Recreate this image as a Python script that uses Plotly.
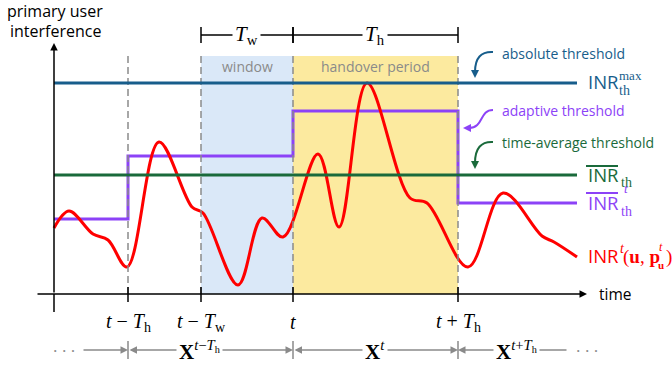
import plotly.graph_objects as go

# time axis: origin at the y axis; level axis: origin at the time axis
tick_times = [74, 147, 239, 404]
tick_labels = ["<i>t</i> − <i>T</i><sub>h</sub>", "<i>t</i> − <i>T</i><sub>w</sub>",
               "<i>t</i>", "<i>t</i> + <i>T</i><sub>h</sub>"]

inr_max = 211          # absolute threshold
inr_avg = 119          # time-average threshold
adaptive_t = [0, 74, 239, 404, 523]
adaptive_level = [75, 138, 183, 91, 91]

inr_t = [0, 15, 39, 54, 73, 105, 138, 149, 184, 208, 229, 264, 285, 313,
         356, 373, 414, 449, 488, 500, 523]
inr_level = [66, 83, 60, 54, 27, 152, 87, 81, 9, 76, 57, 140, 67, 211,
             96, 91, 27, 101, 58, 52, 37]

window = (147, 239)
handover = (239, 404)
end_t = 523

BLUE = "#175d8b"
GREEN = "#1a6a3b"
PURPLE = "#8c42f7"
RED = "#ff0000"
GRAY = "#8a8a8a"
SANS = "Open Sans"
SERIF = "Liberation Serif"

fig = go.Figure()

shapes = []
# shaded periods
shapes.append(dict(type="rect", x0=window[0], x1=window[1], y0=0, y1=238,
                   fillcolor="#dae8f8", line_width=0, layer="below"))
shapes.append(dict(type="rect", x0=handover[0], x1=handover[1], y0=0, y1=238,
                   fillcolor="#fcea9f", line_width=0, layer="below"))
# dashed verticals + ticks
for t in tick_times:
    shapes.append(dict(type="line", x0=t, x1=t, y0=0, y1=238,
                       line=dict(color=GRAY, width=1.5, dash="7px,4px")))
    shapes.append(dict(type="line", x0=t, x1=t, y0=-8, y1=7,
                       line=dict(color="black", width=1.5)))
# y axis below origin
shapes.append(dict(type="line", x0=0, x1=0, y0=-18, y1=0, line=dict(color="black", width=1.5)))

# thresholds
shapes.append(dict(type="line", x0=0, x1=end_t, y0=inr_max, y1=inr_max, line=dict(color=BLUE, width=3)))
shapes.append(dict(type="line", x0=0, x1=end_t, y0=inr_avg, y1=inr_avg, line=dict(color=GREEN, width=3)))

# T brackets
for a, b in [window, handover]:
    shapes.append(dict(type="line", x0=a, x1=b, y0=259, y1=259, line=dict(color="black", width=1.5)))
    for t in (a, b):
        shapes.append(dict(type="line", x0=t, x1=t, y0=251, y1=267, line=dict(color="black", width=1.5)))

# overlines for averaged INR labels
shapes.append(dict(type="line", x0=532, x1=564, y0=128, y1=128, line=dict(color=GREEN, width=2)))
shapes.append(dict(type="line", x0=532, x1=564, y0=101, y1=101, line=dict(color=PURPLE, width=2)))

# curved pointer arrows
shapes.append(dict(type="path", path="M 439,242 Q 421,243 421,222", line=dict(color=BLUE, width=2)))
shapes.append(dict(type="path", path="M 439,184 C 425,184 430,166 415,166", line=dict(color=PURPLE, width=2)))
shapes.append(dict(type="path", path="M 439,152 Q 421,153 421,131", line=dict(color=GREEN, width=2)))

# bottom interval bars
for t in [74, 239, 404]:
    shapes.append(dict(type="line", x0=t, x1=t, y0=-65, y1=-47, line=dict(color=GRAY, width=1.5)))

fig.add_trace(go.Scatter(x=adaptive_t, y=adaptive_level, mode="lines", line_shape="hv",
                         line=dict(color=PURPLE, width=3), hoverinfo="skip"))
fig.add_trace(go.Scatter(x=inr_t, y=inr_level, mode="lines", line_shape="spline",
                         line=dict(color=RED, width=3, smoothing=1), hoverinfo="skip"))

ann = []


def arrow(x, y, ax, ay, color="black", width=1.5, side="end", head=2, size=1):
    ann.append(dict(x=x, y=y, ax=ax, ay=ay, xref="x", yref="y", axref="x", ayref="y",
                    showarrow=True, arrowhead=head, arrowsize=size, arrowwidth=width,
                    arrowcolor=color, arrowside=side, text=""))


def text(x, y, s, size=15, color="black", family=SANS, xa="center", bg=None):
    d = dict(x=x, y=y, xref="x", yref="y", text=s, showarrow=False, xanchor=xa,
             font=dict(size=size, color=color, family=family))
    if bg:
        d.update(bgcolor=bg, borderpad=2)
    ann.append(d)


# axes with arrowheads
arrow(0, 251, 0, 0)
arrow(543 - 10, 0, -18, 0)

# pointer arrowheads
arrow(421, 216, 421, 224, color=BLUE, width=2, size=0.8)
arrow(409, 166, 416, 166, color=PURPLE, width=2, size=0.8)
arrow(421, 125, 421, 133, color=GREEN, width=2, size=0.8)

# bottom arrows
arrow(74, -56, 28, -56, color=GRAY)
arrow(239, -56, 74, -56, color=GRAY, side="end+start")
arrow(404, -56, 239, -56, color=GRAY, side="end+start")
arrow(404, -56, 514, -56, color=GRAY)

text(1, 283, "primary user", size=16)
text(1, 263, "interference", size=16)
text(193, 228, "window", size=14, color=GRAY)
text(321, 228, "handover period", size=14, color=GRAY)
text(192, 259, "<i>T</i><sub>w</sub>", size=21, family=SERIF, bg="white")
text(321, 259, "<i>T</i><sub>h</sub>", size=21, family=SERIF, bg="white")

text(446, 241, "absolute threshold", size=14, color=BLUE, xa="left")
text(446, 184, "adaptive threshold", size=14, color=PURPLE, xa="left")
text(446, 152, "time-average threshold", size=14, color=GREEN, xa="left")

# right-hand labels: sans INR with serif sub/superscripts
text(532, 213, "INR", size=18.5, color=BLUE, xa="left")
text(563, 204, "th", size=14, color=BLUE, family=SERIF, xa="left")
text(563, 219, "max", size=13, color=BLUE, family=SERIF, xa="left")

text(532, 120, "INR", size=18.5, color=GREEN, xa="left")
text(565, 112, "th", size=14, color=GREEN, family=SERIF, xa="left")

text(532, 92, "INR", size=18.5, color=PURPLE, xa="left")
text(565, 83, "th", size=14, color=PURPLE, family=SERIF, xa="left")
text(568, 106, "<i>t</i>", size=13, color=PURPLE, family=SERIF, xa="left")

text(532, 39, "INR", size=18.5, color=RED, xa="left")
text(564, 46, "<i>t</i>", size=14, color=RED, family=SERIF, xa="left")
text(567, 37, "(<b>u</b>, <b>p</b>", size=19, color=RED, family=SERIF, xa="left")
text(602, 29, "<b>u</b>", size=11, color=RED, family=SERIF, xa="left")
text(603, 47, "<i>t</i>", size=12, color=RED, family=SERIF, xa="left")
text(610, 37, ")", size=19, color=RED, family=SERIF, xa="left")

text(543, 0, "time", size=15.5, xa="left")

for t, lab in zip(tick_times, tick_labels):
    text(t, -28, lab, size=20, family=SERIF)

text(10, -56, "· · ·", size=17, color=GRAY, bg="white")
text(145, -56, "<b>X</b><sup><i>t</i>−<i>T</i><sub>h</sub></sup>", size=21, family=SERIF, bg="white")
text(321, -56, "<b>X</b><sup><i>t</i></sup>", size=21, family=SERIF, bg="white")
text(462, -56, "<b>X</b><sup><i>t</i>+<i>T</i><sub>h</sub></sup>", size=21, family=SERIF, bg="white")
text(533, -56, "· · ·", size=17, color=GRAY, bg="white")

fig.update_layout(
    width=672, height=365,
    margin=dict(l=0, r=0, t=0, b=0),
    plot_bgcolor="white", paper_bgcolor="white",
    showlegend=False,
    xaxis=dict(range=[-54, 618], visible=False, fixedrange=True),
    yaxis=dict(range=[-71, 294], visible=False, fixedrange=True),
    shapes=shapes,
    annotations=ann,
)

# drop the default page margin so the figure sits at the window's corner
fig.write_html("out.html", config={"displayModeBar": False},
               post_script="document.body.style.margin='0';")
